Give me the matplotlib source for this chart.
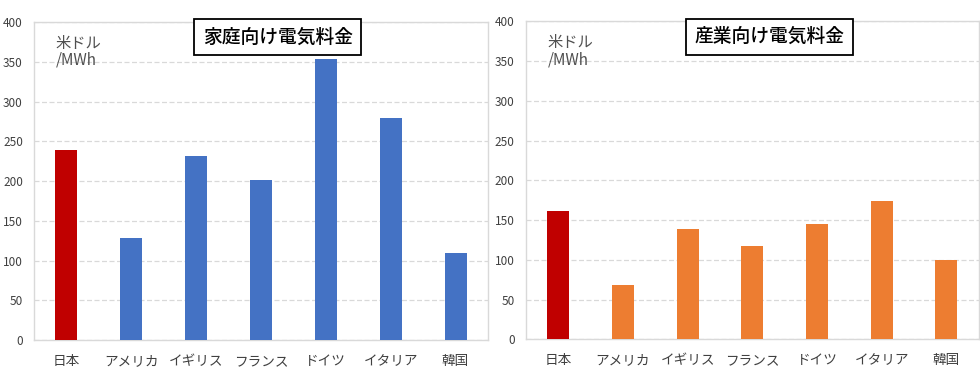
import matplotlib
matplotlib.use("Agg")
import matplotlib.pyplot as plt
import numpy as np

plt.rcParams['font.family'] = ['Noto Sans CJK JP', 'DejaVu Sans']

countries = ["日本", "アメリカ", "イギリス", "フランス", "ドイツ", "イタリア", "韓国"]
household = [239, 129, 231, 202, 353, 279, 110]
industry = [162, 69, 139, 117, 145, 174, 100]
titles = ["家庭向け電気料金", "産業向け電気料金"]
base_colors = ["#4472C4", "#ED7D31"]
japan_color = "#C00000"

fig = plt.figure(figsize=(9.8, 3.75), dpi=100)
axes = [fig.add_axes([0.0347, 0.093, 0.4633, 0.848]),
        fig.add_axes([0.5367, 0.095, 0.462, 0.848])]

for ax, vals, title, col in zip(axes, [household, industry], titles, base_colors):
    x = np.arange(len(countries))
    colors = [japan_color] + [col] * (len(countries) - 1)
    ax.bar(x, vals, width=0.34, color=colors, zorder=3)
    ax.set_xlim(-0.5, len(countries) - 0.5)
    ax.set_ylim(0, 400)
    ax.set_yticks(range(0, 401, 50))
    ax.set_xticks(x)
    ax.set_xticklabels(countries)
    ax.yaxis.grid(True, color="#d9d9d9", linestyle=(0, (4, 2)), linewidth=0.9, zorder=0)
    ax.tick_params(axis="both", length=0, colors="#404040")
    ax.tick_params(axis="x", pad=10, labelsize=9.8)
    ax.tick_params(axis="y", pad=8, labelsize=8.5)
    for s in ax.spines.values():
        s.set_color("#d9d9d9")
        s.set_linewidth(1.0)
    ax.text(0.048, 0.96, "米ドル\n/MWh", transform=ax.transAxes, ha="left", va="top",
            fontsize=11, color="#505050", linespacing=1.0)
    ax.text(0.537, 0.952, title, transform=ax.transAxes, ha="center", va="center",
            fontsize=13.5, fontweight="medium", color="black", zorder=6, clip_on=False,
            bbox=dict(boxstyle="square,pad=0.45", facecolor="white", edgecolor="black", linewidth=1.3))

fig.savefig("out.png", dpi=100)
